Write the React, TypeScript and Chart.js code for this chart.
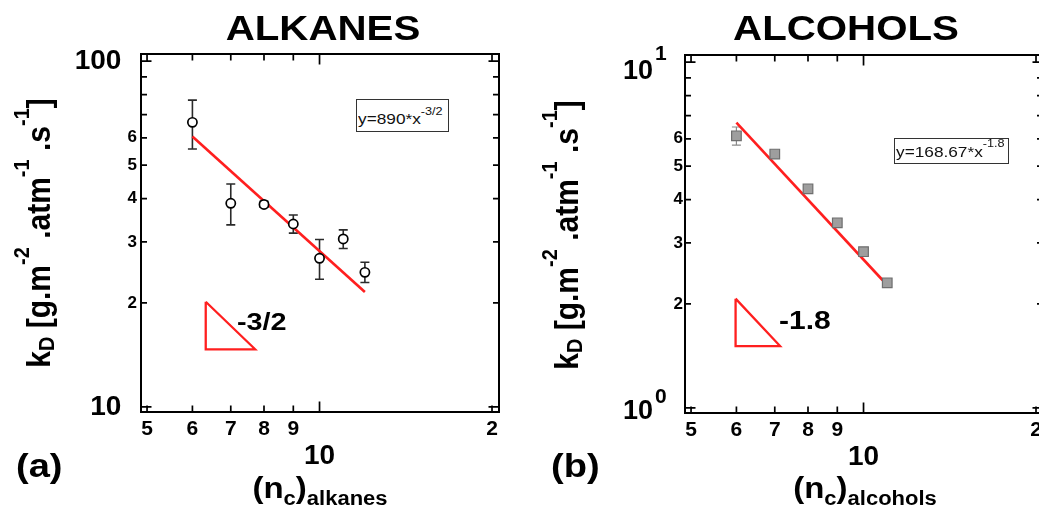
import React, { useEffect, useRef } from 'react';
import { Chart, registerables } from 'chart.js';

Chart.register(...registerables);

const FONT = '"Liberation Sans", Arial, Helvetica, sans-serif';

// ---- shared x axis (log) ----
const xTickValues = [5, 6, 7, 8, 9, 10, 20];
const xTickLabels = ['5', '6', '7', '8', '9', '10', '2'];

// ---- (a) alkanes ----
const alkaneCarbons = [6, 7, 8, 9, 10, 11, 12];
const alkaneKD = [66.5, 38.8, 38.5, 33.8, 26.9, 30.6, 24.5];
const alkaneErrHigh = [77.1, 44.1, 39.3, 35.9, 30.5, 32.5, 26.2];
const alkaneErrLow = [55.7, 33.6, 37.8, 31.8, 23.4, 28.7, 22.9];
const alkaneFitX = [6, 12];
const alkaneFitY = [60.5, 21.5];
const alkaneSlopeX = [6.33, 6.33, 7.72, 6.33];
const alkaneSlopeY = [20.15, 14.68, 14.68, 20.15];
const alkaneYTickValues = [10, 20, 30, 40, 50, 60, 70, 80, 90, 100];
const alkaneYTickLabels = ['10  ', '2', '3', '4', '5', '6', '', '', '', '100  '];
const alkaneYMajor = [10, 100];

// ---- (b) alcohols ----
const alcoholCarbons = [6, 7, 8, 9, 10, 11];
const alcoholKD = [6.12, 5.42, 4.3, 3.43, 2.83, 2.3];
const alcoholErrHigh = [6.49, null, null, 3.5, null, null];
const alcoholErrLow = [5.75, null, null, 3.36, null, null];
const alcoholFitX = [6, 10.8];
const alcoholFitY = [6.68, 2.34];
const alcoholSlopeX = [5.98, 5.98, 7.15, 5.98];
const alcoholSlopeY = [2.07, 1.51, 1.51, 2.07];
const alcoholYTickValues = [1, 2, 3, 4, 5, 6, 7, 8, 9, 10];
const alcoholYTickLabels = ['', '2', '3', '4', '5', '6', '', '', '', ''];
const alcoholYMajor = [1, 10];
const alcoholPowerValues = [1, 10];
const alcoholPowerExps = ['0', '1'];

type PanelCfg = {
  xs: number[];
  ys: number[];
  hi: (number | null)[];
  lo: (number | null)[];
  fitX: number[];
  fitY: number[];
  triX: number[];
  triY: number[];
  yMin: number;
  yMax: number;
  yTicks: number[];
  yLabels: string[];
  yMajor: number[];
  yPad: number;
  circle: boolean;
  errColor: string;
  errWidth: number;
  powers?: { values: number[]; exps: string[]; baseOff: number[]; supOff: number[] };
};

const RED = '#ff1f1f';

function buildConfig(p: PanelCfg): any {
  const pts = p.xs.map((x, i) => ({ x, y: p.ys[i] }));
  const fit = p.fitX.map((x, i) => ({ x, y: p.fitY[i] }));
  const tri = p.triX.map((x, i) => ({ x, y: p.triY[i] }));

  const errPlugin = {
    id: 'errbars',
    beforeDatasetsDraw(chart: any) {
      const { ctx, scales } = chart;
      const xs = scales.x;
      const ys = scales.y;
      ctx.save();
      ctx.strokeStyle = p.errColor;
      ctx.lineWidth = p.errWidth;
      ctx.beginPath();
      p.xs.forEach((xv, i) => {
        const h = p.hi[i];
        const l = p.lo[i];
        if (h == null || l == null) return;
        const px = xs.getPixelForValue(xv);
        const ph = ys.getPixelForValue(h);
        const pl = ys.getPixelForValue(l);
        const cap = 4.5;
        ctx.moveTo(px, ph);
        ctx.lineTo(px, pl);
        ctx.moveTo(px - cap, ph);
        ctx.lineTo(px + cap, ph);
        ctx.moveTo(px - cap, pl);
        ctx.lineTo(px + cap, pl);
      });
      ctx.stroke();
      ctx.restore();
    },
  };

  const framePlugin = {
    id: 'frame',
    afterDraw(chart: any) {
      const { ctx, chartArea: a, scales } = chart;
      const xs = scales.x;
      const ys = scales.y;
      ctx.save();
      ctx.strokeStyle = '#000';
      ctx.lineWidth = 1.7;
      ctx.beginPath();
      xTickValues.forEach((v) => {
        const px = xs.getPixelForValue(v);
        const len = v === 10 ? 10.5 : 6.5;
        ctx.moveTo(px, a.bottom);
        ctx.lineTo(px, a.bottom - len);
        ctx.moveTo(px, a.top);
        ctx.lineTo(px, a.top + len);
      });
      p.yTicks.forEach((v) => {
        const py = ys.getPixelForValue(v);
        const len = p.yMajor.includes(v) ? 10.5 : 6;
        ctx.moveTo(a.left, py);
        ctx.lineTo(a.left + len, py);
        ctx.moveTo(a.right, py);
        ctx.lineTo(a.right - len, py);
      });
      ctx.stroke();
      ctx.lineWidth = 2;
      ctx.strokeRect(a.left, a.top, a.right - a.left, a.bottom - a.top);

      if (p.powers) {
        ctx.fillStyle = '#000';
        p.powers.values.forEach((v, i) => {
          const py = ys.getPixelForValue(v);
          ctx.font = `bold 27px ${FONT}`;
          ctx.textAlign = 'right';
          ctx.textBaseline = 'middle';
          ctx.fillText('10', a.left - 32, py + p.powers!.baseOff[i]);
          ctx.font = `bold 21px ${FONT}`;
          ctx.textAlign = 'left';
          ctx.fillText(p.powers!.exps[i], a.left - 30, py + p.powers!.supOff[i]);
        });
      }
      ctx.restore();
    },
  };

  return {
    type: 'scatter',
    data: {
      datasets: [
        {
          data: pts,
          showLine: false,
          pointStyle: p.circle ? 'circle' : 'rect',
          pointRadius: p.circle ? 4.6 : 6.8,
          pointBorderWidth: p.circle ? 1.7 : 1.2,
          pointBorderColor: p.circle ? '#000' : '#6e6e6e',
          pointBackgroundColor: p.circle ? '#fff' : '#9e9e9e',
        },
        {
          data: fit,
          showLine: true,
          borderColor: RED,
          borderWidth: 2.6,
          pointRadius: 0,
          fill: false,
        },
        {
          data: tri,
          showLine: true,
          borderColor: RED,
          borderWidth: 2.3,
          pointRadius: 0,
          fill: false,
        },
      ],
    },
    options: {
      animation: false,
      responsive: false,
      devicePixelRatio: 1,
      events: [],
      layout: { padding: { left: 0, top: 54, right: 46, bottom: 0 } },
      plugins: { legend: { display: false }, tooltip: { enabled: false }, title: { display: false } },
      scales: {
        x: {
          type: 'logarithmic',
          position: 'bottom',
          min: 4.88,
          max: 20.57,
          bounds: 'data',
          grid: { display: false, drawTicks: false },
          border: { display: false },
          afterBuildTicks: (s: any) => {
            s.ticks = xTickValues.map((v) => ({ value: v }));
          },
          afterFit: (s: any) => {
            s.height = 98;
          },
          ticks: {
            autoSkip: false,
            maxRotation: 0,
            minRotation: 0,
            padding: 5,
            color: '#000',
            major: { enabled: false },
            callback: (v: number) => {
              const lab = xTickLabels[xTickValues.indexOf(v)] ?? '';
              return v === 10 ? ['', lab] : lab;
            },
            font: (c: any) =>
              c.tick && c.tick.value === 10
                ? { family: FONT, size: 28, weight: 'bold', lineHeight: 0.94 }
                : { family: FONT, size: 21, weight: 'bold', lineHeight: 1.2 },
          },
        },
        y: {
          type: 'logarithmic',
          position: 'left',
          min: p.yMin,
          max: p.yMax,
          bounds: 'data',
          grid: { display: false, drawTicks: false },
          border: { display: false },
          afterBuildTicks: (s: any) => {
            s.ticks = p.yTicks.map((v) => ({ value: v }));
          },
          afterFit: (s: any) => {
            s.width = 141;
          },
          ticks: {
            autoSkip: false,
            padding: p.yPad,
            color: '#000',
            major: { enabled: false },
            callback: (v: number) => p.yLabels[p.yTicks.indexOf(v)] ?? '',
            font: (c: any) =>
              c.tick && p.yMajor.includes(c.tick.value)
                ? { family: FONT, size: 28, weight: 'bold' }
                : { family: FONT, size: 17, weight: 'bold' },
          },
        },
      },
    },
    plugins: [errPlugin, framePlugin],
  };
}

const alkaneCfg: PanelCfg = {
  xs: alkaneCarbons,
  ys: alkaneKD,
  hi: alkaneErrHigh,
  lo: alkaneErrLow,
  fitX: alkaneFitX,
  fitY: alkaneFitY,
  triX: alkaneSlopeX,
  triY: alkaneSlopeY,
  yMin: 9.67,
  yMax: 104.8,
  yTicks: alkaneYTickValues,
  yLabels: alkaneYTickLabels,
  yMajor: alkaneYMajor,
  yPad: 4,
  circle: true,
  errColor: '#2a2a2a',
  errWidth: 1.6,
};

const alcoholCfg: PanelCfg = {
  xs: alcoholCarbons,
  ys: alcoholKD,
  hi: alcoholErrHigh,
  lo: alcoholErrLow,
  fitX: alcoholFitX,
  fitY: alcoholFitY,
  triX: alcoholSlopeX,
  triY: alcoholSlopeY,
  yMin: 0.967,
  yMax: 10.48,
  yTicks: alcoholYTickValues,
  yLabels: alcoholYTickLabels,
  yMajor: alcoholYMajor,
  yPad: 2,
  circle: false,
  errColor: '#8a8a8a',
  errWidth: 1.2,
  powers: { values: alcoholPowerValues, exps: alcoholPowerExps, baseOff: [4, 10], supOff: [-11, -8] },
};

function Panel({ cfg, left, top }: { cfg: PanelCfg; left: number; top: number }) {
  const ref = useRef<HTMLCanvasElement>(null);
  useEffect(() => {
    if (!ref.current) return;
    const chart = new Chart(ref.current, buildConfig(cfg));
    return () => chart.destroy();
  }, [cfg]);
  return (
    <canvas
      ref={ref}
      width={545}
      height={510}
      style={{ position: 'absolute', left, top, width: 545, height: 510 }}
    />
  );
}

const base: React.CSSProperties = {
  position: 'absolute',
  fontFamily: FONT,
  fontWeight: 'bold',
  lineHeight: 1,
  whiteSpace: 'nowrap',
  color: '#000',
};

const supY: React.CSSProperties = { fontSize: 20, position: 'relative', top: -19 };
const subY: React.CSSProperties = { fontSize: 20, position: 'relative', top: 3 };
const subX: React.CSSProperties = { fontSize: 20, position: 'relative', top: 7 };

function YTitle({ cx, cy }: { cx: number; cy: number }) {
  return (
    <div
      style={{
        ...base,
        left: cx,
        top: cy,
        fontSize: 30,
        transformOrigin: '0 0',
        transform: 'rotate(-90deg) scaleY(1.12) translate(-50%, -50%)',
      }}
    >
      k<span style={subY}>D</span> [g.m<span style={supY}>-2</span> .atm<span style={supY}>-1</span> .s
      <span style={supY}>-1</span>]
    </div>
  );
}

function XTitle({ cx, sub }: { cx: number; sub: string }) {
  return (
    <div
      style={{
        ...base,
        left: cx,
        top: 472.6,
        fontSize: 30,
        transform: 'translateX(-50%) scaleX(1.1)',
      }}
    >
      (n<span style={subX}>c</span>)<span style={subX}>{sub}</span>
    </div>
  );
}

function EqBox({
  left,
  top,
  width,
  height,
  textTop,
  supTop,
  main,
  exp,
}: {
  left: number;
  top: number;
  width: number;
  height: number;
  textTop: number;
  supTop: number;
  main: string;
  exp: string;
}) {
  return (
    <div
      style={{
        position: 'absolute',
        left,
        top,
        width,
        height,
        border: '1px solid #333',
        boxSizing: 'border-box',
        background: '#fff',
      }}
    >
      <div
        style={{
          position: 'absolute',
          left: 1,
          top: textTop,
          fontFamily: FONT,
          fontSize: 15,
          lineHeight: 1,
          whiteSpace: 'nowrap',
          color: '#111',
          transformOrigin: '0 0',
          transform: 'scaleX(1.15)',
        }}
      >
        {main}
        <span style={{ fontSize: 11, position: 'relative', top: supTop }}>{exp}</span>
      </div>
    </div>
  );
}

export default function App() {
  return (
    <div
      style={{
        position: 'fixed',
        left: 0,
        top: 0,
        width: 1039,
        height: 510,
        overflow: 'hidden',
        background: '#fff',
      }}
    >
      <Panel cfg={alkaneCfg} left={0} top={0} />
      <Panel cfg={alcoholCfg} left={544} top={1} />

      <div style={{ ...base, left: 323, top: 10.4, fontSize: 35, transform: 'translateX(-50%) scaleX(1.15)' }}>
        ALKANES
      </div>
      <div style={{ ...base, left: 846, top: 10.4, fontSize: 35, transform: 'translateX(-50%) scaleX(1.15)' }}>
        ALCOHOLS
      </div>

      <YTitle cx={39} cy={233} />
      <YTitle cx={567} cy={235} />

      <XTitle cx={320} sub="alkanes" />
      <XTitle cx={865} sub="alcohols" />

      <div style={{ ...base, left: 16, top: 448, fontSize: 34, transformOrigin: '0 0', transform: 'scaleX(1.12)' }}>
        (a)
      </div>
      <div style={{ ...base, left: 551, top: 448, fontSize: 34, transformOrigin: '0 0', transform: 'scaleX(1.12)' }}>
        (b)
      </div>

      <EqBox left={356} top={99} width={93} height={33} textTop={11.3} supTop={-9} main="y=890*x" exp="-3/2" />
      <EqBox left={894} top={138} width={115} height={26} textTop={5.3} supTop={-10} main="y=168.67*x" exp="-1.8" />

      <div style={{ ...base, left: 237, top: 309.9, fontSize: 24, transformOrigin: '0 0', transform: 'scaleX(1.2)' }}>
        -3/2
      </div>
      <div style={{ ...base, left: 779, top: 308.4, fontSize: 25, transformOrigin: '0 0', transform: 'scaleX(1.2)' }}>
        -1.8
      </div>
    </div>
  );
}
